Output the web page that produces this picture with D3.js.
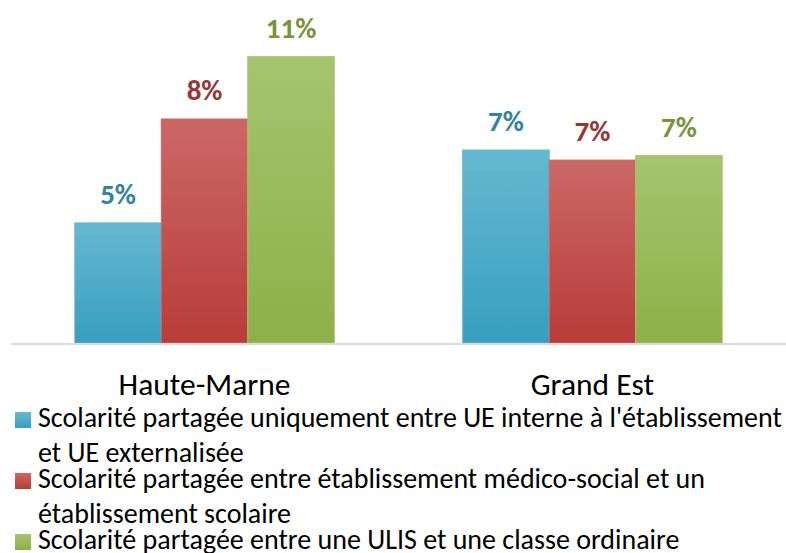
<!DOCTYPE html>
<html><head><meta charset="utf-8">
<script src="https://cdn.jsdelivr.net/npm/d3@7"></script>
<style>body{margin:0;background:#fff}svg{display:block}</style>
</head><body>
<svg id="c" width="786" height="553"></svg>
<script>
const categories = ["Haute-Marne", "Grand Est"];
const seriesNames = [
  ["Scolarité partagée uniquement entre UE interne à l'établissement", "et UE externalisée"],
  ["Scolarité partagée entre établissement médico-social et un", "établissement scolaire"],
  ["Scolarité partagée entre une ULIS et une classe ordinaire"]
];
const uniquementUE = [4.53, 7.28];
const medicoSocial = [8.45, 6.90];
const ulisClasse = [10.8, 7.07];
const series = [uniquementUE, medicoSocial, ulisClasse];
const barTop = ["#66b8d0", "#cb6866", "#a7c46e"];
const barBot = ["#379fc0", "#b83c3a", "#8db049"];
const labelCol = ["#31859c", "#953735", "#77933c"];
const font = "Carlito, Calibri, Lato, 'Open Sans', sans-serif";

const svg = d3.select("#c");
const defs = svg.append("defs");
series.forEach((s,i)=>{
  const g = defs.append("linearGradient").attr("id","g"+i).attr("x1",0).attr("y1",0).attr("x2",0).attr("y2",1);
  g.append("stop").attr("offset","0%").attr("stop-color",barTop[i]);
  g.append("stop").attr("offset","100%").attr("stop-color",barBot[i]);
});

const baseY = 343;
const y = d3.scaleLinear().domain([0, 12]).range([baseY, baseY - 12*26.51]);
const x0 = d3.scaleBand().domain(categories).range([11, 786]).paddingInner(0.331).paddingOuter(0.1645);
const x1 = d3.scaleBand().domain(d3.range(series.length)).range([0, x0.bandwidth()]);

const fmt = d3.format(".0%");
categories.forEach((c,ci)=>{
  series.forEach((s,si)=>{
    const v = s[ci];
    const bx = x0(c) + x1(si);
    svg.append("rect").attr("x",bx).attr("y",y(v)).attr("width",x1.bandwidth()).attr("height",baseY - y(v))
      .attr("fill","url(#g"+si+")").attr("stroke",barTop[si]).attr("stroke-width",1);
    svg.append("text").attr("x",bx + x1.bandwidth()/2).attr("y",y(v) - 19)
      .attr("text-anchor","middle").attr("font-family",font).attr("font-weight","bold")
      .attr("font-size",29).attr("fill",labelCol[si]).text(fmt(v/100));
  });
});

// axis
svg.append("line").attr("x1",11).attr("x2",786).attr("y1",baseY+1).attr("y2",baseY+1)
  .attr("stroke","#d9d9d9").attr("stroke-width",2);

// category labels
const catSize = (()=>{
  const t = svg.append("text").attr("font-family",font).attr("font-size",28).text(categories[0]);
  const w = t.node().getComputedTextLength(); t.remove();
  return 28*172/w;
})();
categories.forEach(c=>{
  svg.append("text").attr("x",x0(c)+x0.bandwidth()/2).attr("y",395).attr("text-anchor","middle")
    .attr("font-family",font).attr("font-size",catSize).attr("fill","#000").text(c);
});

// legend
const legSize = (()=>{
  const t = svg.append("text").attr("font-family",font).attr("font-size",24).text(seriesNames[0][0]);
  const w = t.node().getComputedTextLength(); t.remove();
  return 24*744/w;
})();
const rowY = [[427, 462], [488, 523], [549]];
seriesNames.forEach((lines,si)=>{
  svg.append("rect").attr("x",15).attr("y",rowY[si][0]-15).attr("width",16).attr("height",16)
    .attr("fill","url(#g"+si+")");
  lines.forEach((ln,li)=>{
    svg.append("text").attr("x",38).attr("y",rowY[si][li]).attr("font-family",font)
      .attr("font-size",legSize).attr("fill","#000").text(ln);
  });
});
</script>
</body></html>
